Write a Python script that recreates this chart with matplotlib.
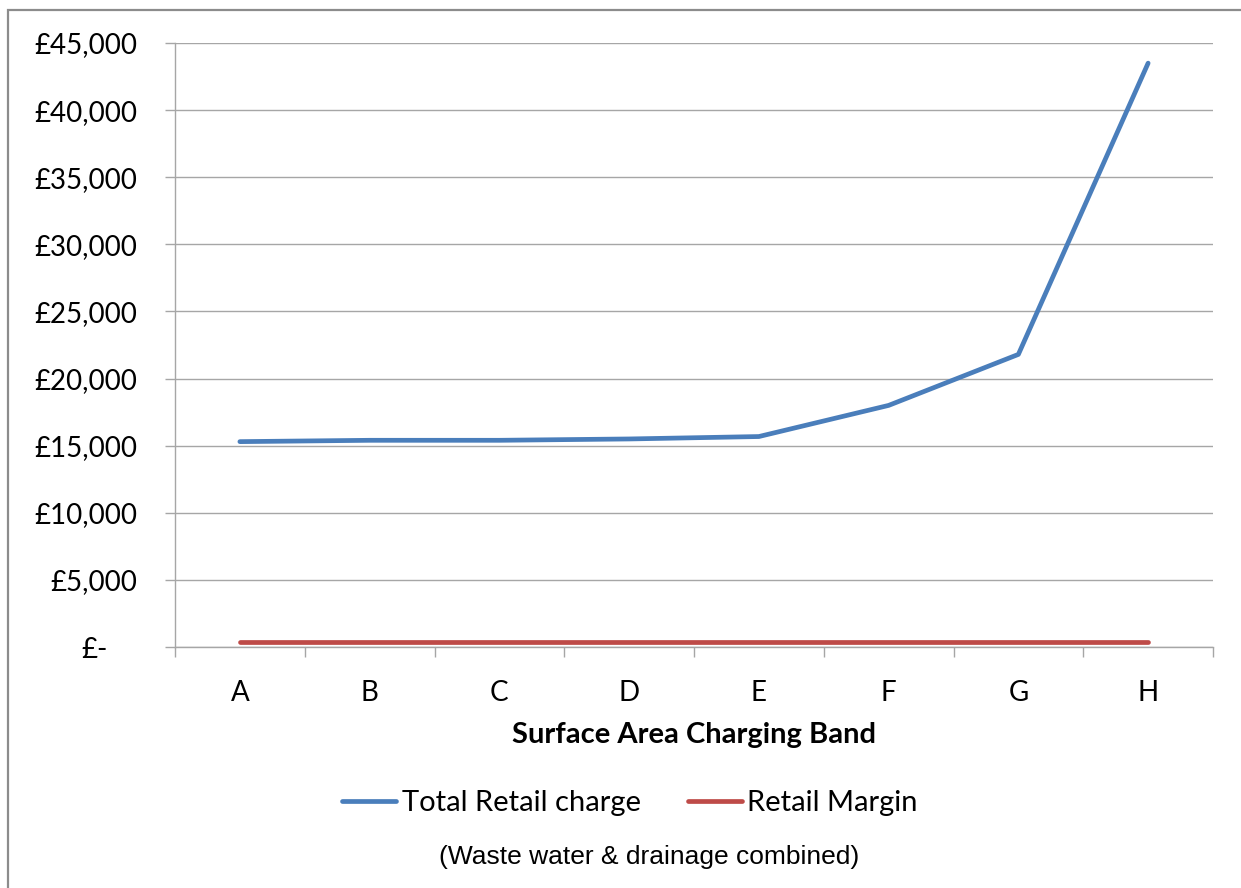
import matplotlib
matplotlib.use("Agg")
import matplotlib.pyplot as plt
from matplotlib.patches import Rectangle
from matplotlib.transforms import ScaledTranslation
from matplotlib.ticker import FixedLocator

# Charging bands and annual charges (GBP)
bands = ["A", "B", "C", "D", "E", "F", "G", "H"]
total_retail_charge = [15300, 15400, 15400, 15500, 15680, 18000, 21800, 43500]
retail_margin = [400, 400, 400, 400, 400, 400, 400, 400]

y_ticks = [0, 5000, 10000, 15000, 20000, 25000, 30000, 35000, 40000, 45000]
y_labels = ["£-", "£5,000", "£10,000", "£15,000", "£20,000", "£25,000",
            "£30,000", "£35,000", "£40,000", "£45,000"]

plt.rcParams["font.family"] = ["Lato", "DejaVu Sans"]

W, H = 1241, 888
fig = plt.figure(figsize=(W / 100, H / 100), dpi=100)
fig.patch.set_facecolor("white")

left, right, top, bottom = 175, 1213, 43, 647
ax = fig.add_axes([left / W, 1 - bottom / H, (right - left) / W, (bottom - top) / H])

grid_c = "#A6A6A6"
blue = "#4A7EBB"
red = "#BE4B48"

x = list(range(len(bands)))
ax.plot(x, total_retail_charge, color=blue, lw=3.4, solid_capstyle="round",
        solid_joinstyle="round", label="Total Retail charge", zorder=3)
ax.plot(x, retail_margin, color=red, lw=3.4, solid_capstyle="round",
        label="Retail Margin", zorder=3)

ax.set_xlim(-0.5, len(bands) - 0.5)
ax.set_ylim(0, 45000)

ax.set_yticks(y_ticks)
ax.set_yticklabels(y_labels)
ax.yaxis.grid(True, color=grid_c, lw=1.0)
ax.set_axisbelow(True)

ax.set_xticks(x)
ax.set_xticklabels(bands)
ax.xaxis.set_minor_locator(FixedLocator([i - 0.5 for i in range(len(bands) + 1)]))

ax.tick_params(axis="y", length=7, width=1, color=grid_c, pad=20, labelsize=20)
ax.tick_params(axis="x", which="major", length=0, pad=24, labelsize=20)
ax.tick_params(axis="x", which="minor", length=7, width=1, color=grid_c)

for s in ["top", "right"]:
    ax.spines[s].set_visible(False)
for s in ["left", "bottom"]:
    ax.spines[s].set_color(grid_c)
    ax.spines[s].set_linewidth(1.0)

# accounting-style zero label sits further left
zero_lbl = ax.get_yticklabels()[0]
zero_lbl.set_transform(zero_lbl.get_transform() +
                       ScaledTranslation(-0.30, 0, fig.dpi_scale_trans))

ax.set_xlabel("Surface Area Charging Band", fontsize=21, fontweight="bold", labelpad=11)

fig.legend(loc="center", bbox_to_anchor=(630 / W, 1 - 803 / H), ncol=2,
           frameon=False, fontsize=21, handlelength=1.85, handletextpad=0.2,
           columnspacing=1.6)

fig.text(649 / W, 1 - 857 / H, "(Waste water & drainage combined)",
         ha="center", va="center", fontsize=19, family="Liberation Sans")

fig.patches.append(Rectangle((8 / W, -0.01), 1.02, 1 - 10 / H + 0.01,
                             transform=fig.transFigure, fill=False,
                             edgecolor="#8C8C8C", lw=1.6, clip_on=False))

fig.savefig("out.png", dpi=100, facecolor="white")
